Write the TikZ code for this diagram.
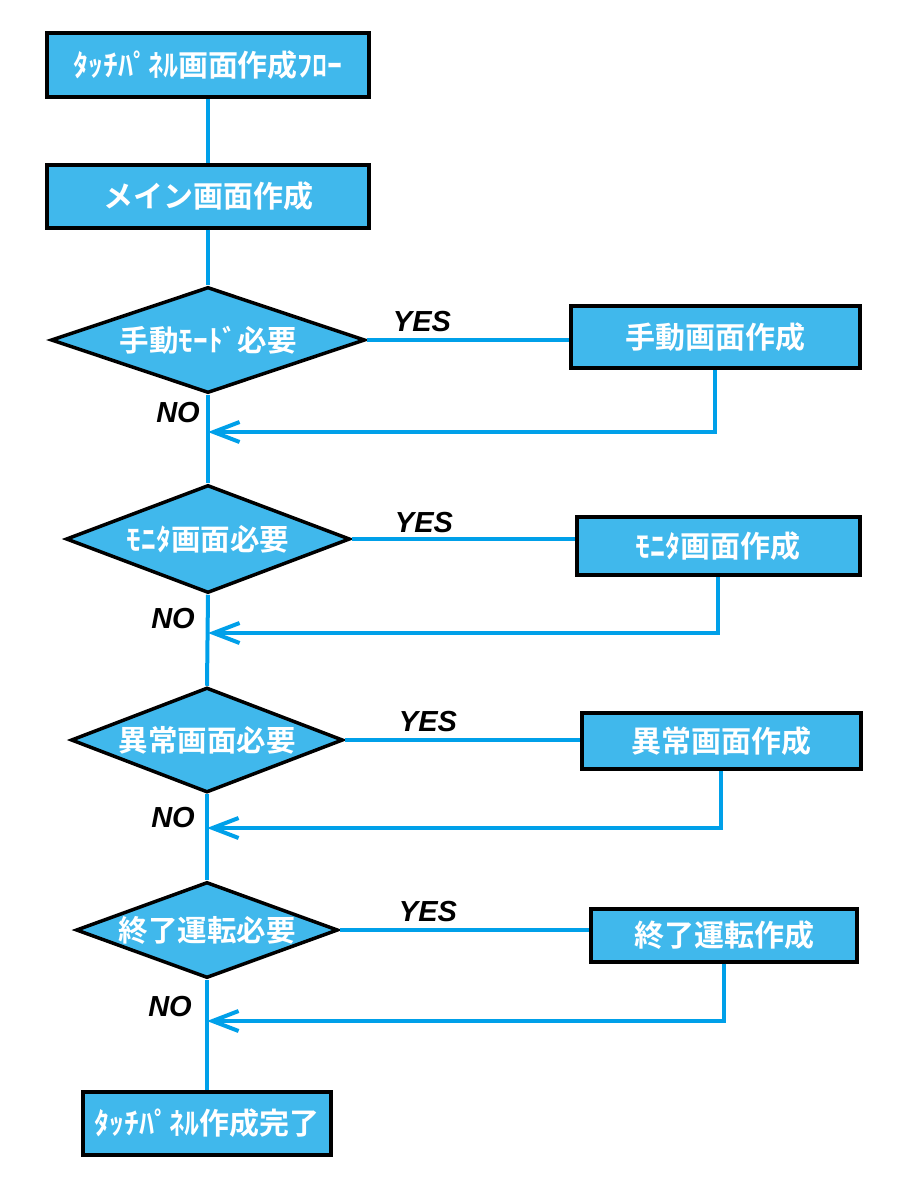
\documentclass[tikz,border=0pt]{standalone}
\usepackage{fontspec}
\newfontfamily\jpfont{Noto Sans CJK JP}[BoldFont={Noto Sans CJK JP Bold}]
\newfontfamily\latfont{Liberation Sans}
\usepackage{tikz}
\usetikzlibrary{arrows.meta}
\usetikzlibrary{shapes.geometric}
\usetikzlibrary{positioning}
\definecolor{aosen}{RGB}{0,160,233}
\definecolor{aonuri}{RGB}{64,184,236}
\tikzset{
  hako/.style 2 args={draw=black, line width=4pt, fill=aonuri, text=white, inner sep=0pt, minimum width=#1, minimum height=#2, font=\jpfont\bfseries\fontsize{30}{30}\selectfont},
  handan/.style 2 args={diamond, aspect=3, draw=black, line width=3.5pt, fill=aonuri, text=white, inner sep=0pt, minimum width=#1, minimum height=#2, font=\jpfont\bfseries\fontsize{29.5}{29.5}\selectfont},
  kotae/.style={text=black, inner sep=0pt, font=\latfont\bfseries\itshape\fontsize{29}{29}\selectfont},
  sen/.style={draw=aosen, line width=4pt},
  yajirushi/.style={sen, -{Straight Barb[length=26pt, width=20pt]}},
}
\begin{document}
\begin{tikzpicture}[x=1pt, y=-1pt]
  \path[use as bounding box, fill=white] (0,0) rectangle (908,1200);
  \node[hako={322pt}{64pt}] (title) at (208,65) {ﾀｯﾁﾊﾟﾈﾙ画面作成ﾌﾛｰ};
  \node[hako={322pt}{63pt}] (main) at (208,196) {メイン画面作成};
  \node[handan={314pt}{106pt}] (q1) at (208,340) {手動ﾓｰﾄﾞ必要};
  \node[handan={284pt}{108pt}] (q2) at (208,539) {ﾓﾆﾀ画面必要};
  \node[handan={272pt}{105pt}] (q3) at (207,740) {異常画面必要};
  \node[handan={262pt}{96pt}] (q4) at (207,930) {終了運転必要};
  \node[hako={248pt}{63pt}] (owari) at (207,1123) {ﾀｯﾁﾊﾟﾈﾙ作成完了};
  \node[hako={289pt}{62pt}] (s1) at (715,337) {手動画面作成};
  \node[hako={283pt}{58pt}] (s2) at (718,546) {ﾓﾆﾀ画面作成};
  \node[hako={279pt}{56pt}] (s3) at (721,741) {異常画面作成};
  \node[hako={266pt}{53pt}] (s4) at (724,935) {終了運転作成};
  \coordinate (r1) at (208,432);
  \coordinate (r2) at (208,633);
  \coordinate (r3) at (207,828);
  \coordinate (r4) at (207,1021);
  \node[kotae] (yes1) at (422,322) {YES};
  \node[kotae] (yes2) at (424,523) {YES};
  \node[kotae] (yes3) at (428,722) {YES};
  \node[kotae] (yes4) at (428,912) {YES};
  \node[kotae] (no1) at (178,413) {NO};
  \node[kotae] (no2) at (173,619) {NO};
  \node[kotae] (no3) at (173,818) {NO};
  \node[kotae] (no4) at (170,1007) {NO};
  \draw[sen] (title.south) -- (main.north);
  \draw[sen] (main.south) -- (q1.north);
  \draw[sen] (q1.south) -- (q2.north);
  \draw[sen] (q2.south) -- (q3.north);
  \draw[sen] (q3.south) -- (q4.north);
  \draw[sen] (q4.south) -- (owari.north);
  \draw[sen] (q1.east) -- (q1.east -| s1.west);
  \draw[sen] (q2.east) -- (q2.east -| s2.west);
  \draw[sen] (q3.east) -- (q3.east -| s3.west);
  \draw[sen] (q4.east) -- (q4.east -| s4.west);
  \draw[yajirushi] (s1.south) -- (s1.south |- r1) -- (r1);
  \draw[yajirushi] (s2.south) -- (s2.south |- r2) -- (r2);
  \draw[yajirushi] (s3.south) -- (s3.south |- r3) -- (r3);
  \draw[yajirushi] (s4.south) -- (s4.south |- r4) -- (r4);
\end{tikzpicture}
\end{document}
